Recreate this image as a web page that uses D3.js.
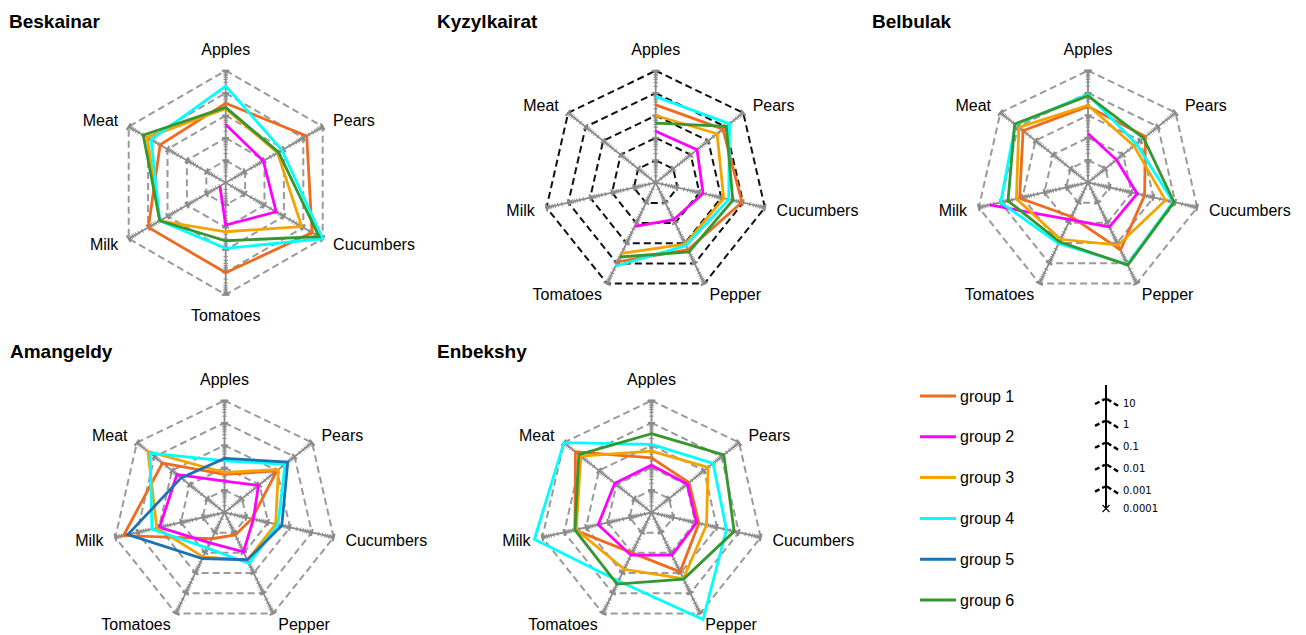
<!DOCTYPE html>
<html>
<head>
<meta charset="utf-8">
<script src="https://cdn.jsdelivr.net/npm/d3@7"></script>
<style>
body { margin: 0; background: #fff; }
svg text { font-family: "Liberation Sans", Arial, sans-serif; fill: #000; }
</style>
</head>
<body>
<svg id="vis" width="1306" height="635"></svg>
<script>
var groupNames = ['group 1', 'group 2', 'group 3', 'group 4', 'group 5', 'group 6'];
var groupColours = ['#ee6b1f', '#ff00ff', '#f5a300', '#00ffff', '#1b72b5', '#36962f'];
var scaleTicks = [10, 1, 0.1, 0.01, 0.001, 0.0001];

var axes6 = ['Apples', 'Pears', 'Cucumbers', 'Tomatoes', 'Milk', 'Meat'];
var axes7 = ['Apples', 'Pears', 'Cucumbers', 'Pepper', 'Tomatoes', 'Milk', 'Meat'];

// one row per group (null = group not sampled), values in axis order
var beskainar = [
    [0.35, 1.5, 2.85, 1.05, 0.97, 0.24],
    [0.04, 0.0087, 0.04, 0.0078, 0.0002, null],
    [0.2, 0.047, 0.83, 0.0155, 0.25, 1.12],
    [2.07, 0.08, 10, 0.085, 0.25, 0.7],
    null,
    [0.23, 0.053, 6.5, 0.039, 0.25, 1.78]
];
var kyzylkairat = [
    [0.3, 0.69, 0.89, 0.21, 0.84, null, null],
    [0.0197, 0.023, 0.0148, 0.0068, 0.0146, null, null],
    [0.1, 0.32, 0.13, 0.11, 0.32, null, null],
    [0.7, 1.64, 0.22, 0.13, 1.38, null, null],
    null,
    [0.046, 1.07, 0.34, 0.27, 0.48, null, null]
];
var belbulak = [
    [0.25, 0.19, 0.039, 0.22, 0.005, 0.135, 0.51],
    [0.0155, 0.0042, 0.018, 0.016, 0.007, 3.2, null],
    [0.28, 0.042, 0.35, 0.127, 0.065, 0.19, 0.89],
    [0.85, 0.058, 0.8, 1.12, 0.106, 1.0, 1.41],
    null,
    [0.74, 0.15, 0.87, 1.24, 0.086, 0.46, 1.53]
];
var amangeldy = [
    [0.005, 0.097, 0.0018, 0.0013, 0.002, 4.2, 0.35],
    [0.0025, 0.0087, 0.0021, 0.0089, 0.0032, 0.094, 0.052],
    [0.0061, 0.12, 0.022, 0.023, 0.016, 0.126, 2.37],
    [0.02, 0.29, 0.028, 0.0335, 0.0058, 0.21, 1.78],
    [0.026, 0.41, 0.042, 0.022, 0.019, 2.66, 0.03],
    null
];
var enbekshy = [
    [0.0275, 0.014, 0.0148, 0.087, 0.01, 0.32, 2.2],
    [0.013, 0.011, 0.0115, 0.013, 0.013, 0.0275, 0.0125],
    [0.055, 0.17, 0.033, 0.19, 0.065, 0.28, 1.08],
    [0.11, 0.33, 0.27, 20, 0.25, 23, 10],
    null,
    [0.33, 1.35, 0.61, 0.2, 0.35, 0.32, 1.41]
];

var panels = [
    { title: 'Beskainar', axes: axes6, values: beskainar, cx: 225.7, cy: 182.7, tx: 9, ty: 28, grid: '#9a9a9a' },
    { title: 'Kyzylkairat', axes: axes7, values: kyzylkairat, cx: 655.7, cy: 182.7, tx: 437, ty: 28, grid: '#111' },
    { title: 'Belbulak', axes: axes7, values: belbulak, cx: 1088, cy: 182.5, tx: 872, ty: 28, grid: '#9a9a9a' },
    { title: 'Amangeldy', axes: axes7, values: amangeldy, cx: 224.5, cy: 512.5, tx: 10, ty: 358, grid: '#9a9a9a' },
    { title: 'Enbekshy', axes: axes7, values: enbekshy, cx: 651.5, cy: 512.5, tx: 437, ty: 358, grid: '#9a9a9a' }
];

var R = 112;
var svg = d3.select('#vis');

var r_scale = d3.scaleLog()
    .domain([0.0001, 10])
    .range([0, R]);

var rings = [0.001, 0.01, 0.1, 1, 10];

// minor + major log ticks along each spoke
var spokeTicks = [];
for (var d = -4; d <= 0; d++) {
    for (var m = 1; m <= 9; m++) {
        if (d === -4 && m === 1) continue;
        spokeTicks.push({ v: m * Math.pow(10, d), major: m === 1 });
    }
}
spokeTicks.push({ v: 10, major: true });

function drawPanel(p) {
    var n = p.axes.length;
    var g = svg.append('g')
        .attr('transform', 'translate(' + p.cx + ',' + p.cy + ')');

    function ang(i) { return 2 * Math.PI * i / n; }
    function pt(i, r) {
        return [r * Math.sin(ang(i)), -r * Math.cos(ang(i))];
    }

    svg.append('text')
        .attr('x', p.tx)
        .attr('y', p.ty)
        .style('font-size', '19px')
        .style('font-weight', 'bold')
        .text(p.title);

    // dashed rings
    rings.forEach(function (v) {
        var pts = d3.range(n).map(function (i) { return pt(i, r_scale(v)); });
        g.append('path')
            .attr('d', d3.line().curve(d3.curveLinearClosed)(pts))
            .attr('fill', 'none')
            .attr('stroke', p.grid)
            .attr('stroke-width', 2)
            .attr('stroke-dasharray', '7,4');
    });

    // spokes with log ticks
    d3.range(n).forEach(function (i) {
        var a = ang(i);
        var px = Math.cos(a), py = Math.sin(a);
        var end = pt(i, R);
        g.append('line')
            .attr('x1', 0).attr('y1', 0)
            .attr('x2', end[0]).attr('y2', end[1])
            .attr('stroke', '#8a8a8a')
            .attr('stroke-width', 1.8);

        g.selectAll('.tick' + i)
            .data(spokeTicks)
            .enter()
            .append('line')
            .attr('x1', function (t) { var q = pt(i, r_scale(t.v)); return q[0] - px * (t.major ? 3.5 : 2.2); })
            .attr('y1', function (t) { var q = pt(i, r_scale(t.v)); return q[1] - py * (t.major ? 3.5 : 2.2); })
            .attr('x2', function (t) { var q = pt(i, r_scale(t.v)); return q[0] + px * (t.major ? 3.5 : 2.2); })
            .attr('y2', function (t) { var q = pt(i, r_scale(t.v)); return q[1] + py * (t.major ? 3.5 : 2.2); })
            .attr('stroke', '#8a8a8a')
            .attr('stroke-width', function (t) { return t.major ? 2 : 1; });

        // end cap
        g.append('line')
            .attr('x1', end[0] - px * 4).attr('y1', end[1] - py * 4)
            .attr('x2', end[0] + px * 4).attr('y2', end[1] + py * 4)
            .attr('stroke', '#8a8a8a')
            .attr('stroke-width', 1.2);

        // axis label
        var s = Math.sin(a), c = Math.cos(a);
        var lp = pt(i, R + 12);
        var anchor = 'middle';
        if (s > 0.1) anchor = 'start';
        if (s < -0.1) anchor = 'end';
        var dy = 0;
        if (Math.abs(s) < 0.1) dy = c > 0 ? -9 : 9;
        g.append('text')
            .attr('x', lp[0])
            .attr('y', lp[1] + dy)
            .attr('text-anchor', anchor)
            .attr('dominant-baseline', 'central')
            .style('font-size', '16px')
            .text(p.axes[i]);
    });

    // group lines
    p.values.forEach(function (row, k) {
        if (!row) return;
        var pts = row.map(function (v, i) {
            return v == null ? null : pt(i, r_scale(v));
        });
        var complete = pts.every(function (q) { return q !== null; });
        var line = d3.line()
            .defined(function (q) { return q !== null; })
            .curve(complete ? d3.curveLinearClosed : d3.curveLinear);
        g.append('path')
            .attr('d', line(pts))
            .attr('fill', 'none')
            .attr('stroke', groupColours[k])
            .attr('stroke-width', 2.8)
            .attr('stroke-linejoin', 'miter');
    });
}

panels.forEach(drawPanel);

// legend
var legend = svg.append('g');
groupNames.forEach(function (name, k) {
    var y = 396 + k * 40.8;
    legend.append('line')
        .attr('x1', 920).attr('x2', 956)
        .attr('y1', y).attr('y2', y)
        .attr('stroke', groupColours[k])
        .attr('stroke-width', 3);
    legend.append('text')
        .attr('x', 960)
        .attr('y', y)
        .attr('dominant-baseline', 'central')
        .style('font-size', '16px')
        .text(name);
});

// scale key
var key_x = 1106;
var key_scale = d3.scaleLog()
    .domain([0.0001, 10])
    .range([508.5, 399]);
var key = svg.append('g');
key.append('line')
    .attr('x1', key_x).attr('x2', key_x)
    .attr('y1', 385).attr('y2', key_scale(0.0001))
    .attr('stroke', '#000')
    .attr('stroke-width', 2);
scaleTicks.forEach(function (v) {
    var y = key_scale(v);
    if (v > 0.0001) {
        key.append('path')
            .attr('d', 'M' + (key_x - 11) + ',' + (y + 5) + 'L' + (key_x - 1) + ',' + y)
            .attr('stroke', '#000')
            .attr('stroke-width', 2.4)
            .attr('stroke-dasharray', '5,3');
        key.append('path')
            .attr('d', 'M' + (key_x + 1) + ',' + y + 'L' + (key_x + 14) + ',' + (y + 8))
            .attr('stroke', '#000')
            .attr('stroke-width', 2.4)
            .attr('stroke-dasharray', '5,3');
    } else {
        key.append('path')
            .attr('d', 'M' + (key_x - 3.5) + ',' + (y - 3.5) + 'L' + (key_x + 3.5) + ',' + (y + 3.5) +
                'M' + (key_x - 3.5) + ',' + (y + 3.5) + 'L' + (key_x + 3.5) + ',' + (y - 3.5))
            .attr('stroke', '#000')
            .attr('stroke-width', 1.2);
    }
    key.append('text')
        .attr('x', key_x + 17)
        .attr('y', v > 0.0001 ? y + 4 : y)
        .attr('dominant-baseline', 'central')
        .style('font-family', '"DejaVu Sans", sans-serif')
        .style('font-size', '10px')
        .text(v);
});
</script>
</body>
</html>
